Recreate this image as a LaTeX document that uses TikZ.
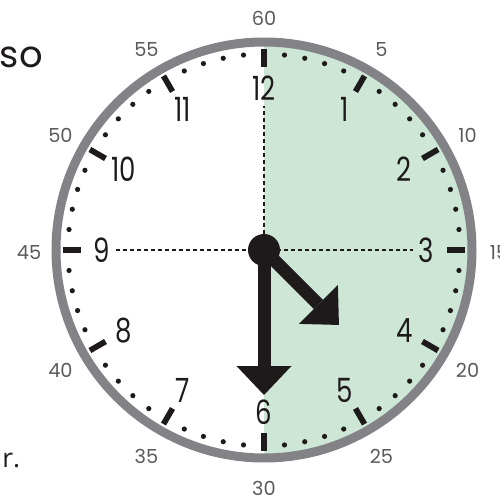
\documentclass[tikz,border=0pt]{standalone}
\usepackage{fontspec}
\setmainfont{Poppins}
\newfontfamily\clockfont[FakeStretch=0.78]{Poppins}
\newfontfamily\notefont{Open Sans}
\usetikzlibrary{arrows.meta}
\definecolor{facegreen}{HTML}{CDE6D5}
\definecolor{rimgray}{HTML}{838387}
\definecolor{inkblack}{HTML}{1E1A1B}
\definecolor{labelgray}{HTML}{5A5A5C}

\begin{document}
\begin{tikzpicture}[x=0.2mm,y=0.2mm,
	hournum/.style={font=\clockfont\fontsize{19}{19}\selectfont, text=inkblack, inner sep=1mm},
	minnum/.style={font=\fontsize{11}{11}\selectfont, text=labelgray, inner sep=0pt, yshift=-0.6mm},
	hourtick/.style={draw=inkblack, line width=1.15mm},
	guide/.style={draw=inkblack, line width=0.25mm, dash pattern=on 0.8mm off 0.6mm},
	hand/.style={draw=inkblack, line width=2.6mm, -{Triangle[length=5.8mm,width=11mm,line width=0pt]}},
	hub/.style={circle, fill=inkblack, minimum size=6.4mm, inner sep=0pt}]
	\useasboundingbox (-264,-244) rectangle (236,250);

	% right half of the face
	\fill[facegreen] (0,0) -- (90:208) arc[start angle=90, end angle=-90, radius=208] -- cycle;

	\foreach \a in {0,30,...,330}
		\draw[hourtick] (\a:183) -- (\a:201);
	\foreach \m in {1,...,59}{
		\pgfmathtruncatemacro{\rest}{mod(\m,5)}
		\pgfmathsetmacro{\ang}{90-6*\m}
		\ifnum\rest>0 \fill[inkblack] (\ang:196) circle[radius=2.6]; \fi
	}
	\draw[rimgray, line width=1.8mm] (0,0) circle[radius=208];

	\foreach \h in {1,...,12}{
		\pgfmathsetmacro{\ang}{90-30*\h}
		\node[hournum] (h\h) at (\ang:162) {\h};
	}
	\foreach \m in {5,10,...,60}{
		\pgfmathsetmacro{\ang}{90-6*\m}
		\node[minnum] (m\m) at (\ang:235) {\m};
	}

	\node[hub] (hub) at (0,0) {};
	\draw[guide] (h9) -- (h3);
	\draw[guide] (hub) -- (h12);

	\coordinate (hourtip) at (-45:106);
	\coordinate (mintip) at (0,-145);
	\draw[hand] (hub.center) -- (hourtip);
	\draw[hand] (hub.center) -- (mintip);

	\node[anchor=base east, inner sep=0pt, font=\fontsize{21}{21}\selectfont, text=inkblack] (fragso) at (-221,182) {so};
	\node[anchor=base west, inner sep=0pt, font=\notefont\fontsize{15}{15}\selectfont, text=inkblack] (fragr) at (-262,-217) {r.};
\end{tikzpicture}
\end{document}
